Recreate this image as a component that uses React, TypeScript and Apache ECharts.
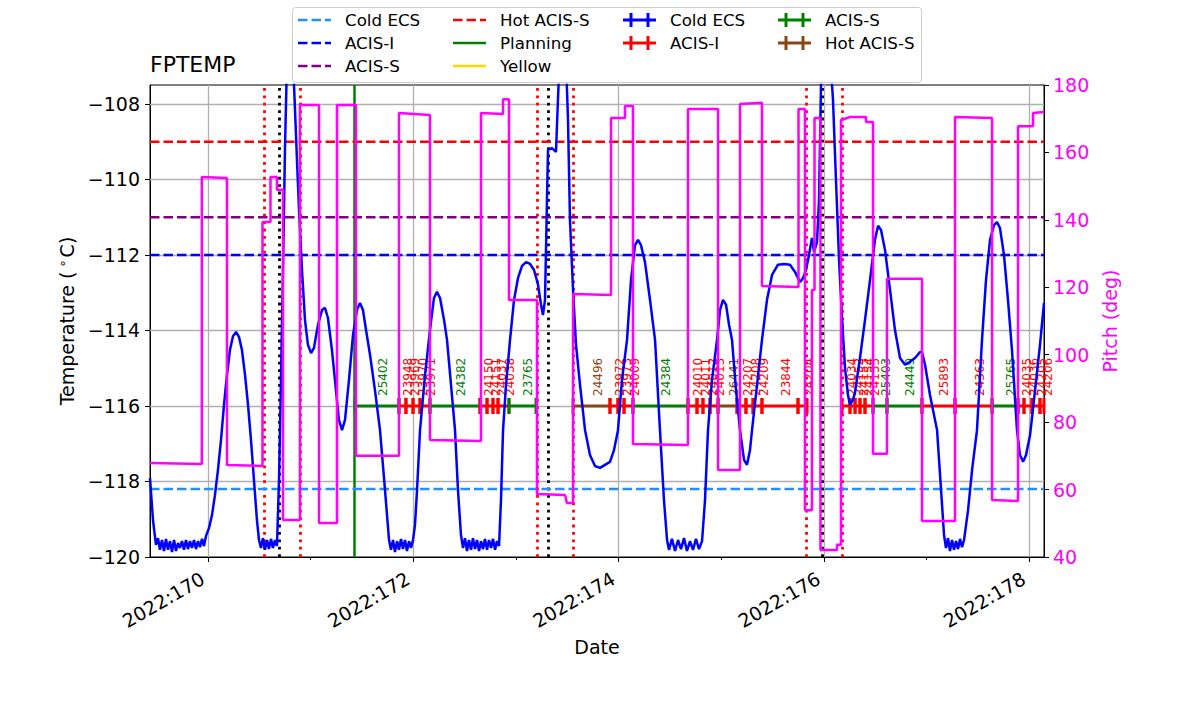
import React, { useEffect, useRef } from "react";
import * as echarts from "echarts";

const FONT = "DejaVu Sans";
const TICK_FS = 19;
const AXIS_NAME_FS = 19;
const LEGEND_FS = 16.7;
const TITLE_FS = 22;

const X_MIN = 169.435;
const X_MAX = 178.146;
const TEMP_MIN = -120;
const TEMP_MAX = -107.5;
const PITCH_MIN = 40;
const PITCH_MAX = 180;

const X_MAJOR_TICKS = [170, 172, 174, 176, 178];
const X_MINOR_TICKS = [171, 173, 175, 177];
const TEMP_TICKS = [-120, -118, -116, -114, -112, -110, -108];
const TEMP_GRID = [-118, -116, -114, -112, -110, -108];
const PITCH_INTERVAL = 20;

// FPTEMP temperature (day of year 2022, deg C)
const TEMP_TIME = [
  169.435, 169.464, 169.493, 169.513, 169.532, 169.552, 169.571, 169.591, 169.61, 169.63,
  169.649, 169.669, 169.688, 169.708, 169.727, 169.747, 169.766, 169.786, 169.805, 169.825,
  169.844, 169.864, 169.883, 169.903, 169.922, 169.942, 169.961, 169.981, 170.01, 170.039,
  170.068, 170.097, 170.127, 170.156, 170.185, 170.214, 170.244, 170.273, 170.302, 170.331,
  170.361, 170.39, 170.419, 170.448, 170.477, 170.497, 170.516, 170.536, 170.555, 170.575,
  170.594, 170.614, 170.633, 170.653, 170.672, 170.692, 170.711, 170.731, 170.75, 170.77,
  170.799, 170.828, 170.848, 170.867, 170.887, 170.916, 170.945, 170.974, 171.004, 171.033,
  171.072, 171.111, 171.14, 171.169, 171.208, 171.247, 171.276, 171.306, 171.335, 171.374,
  171.413, 171.452, 171.481, 171.51, 171.54, 171.579, 171.627, 171.676, 171.725, 171.764,
  171.783, 171.803, 171.822, 171.842, 171.861, 171.881, 171.9, 171.92, 171.939, 171.959,
  171.978, 171.998, 172.017, 172.037, 172.066, 172.115, 172.163, 172.202, 172.231, 172.261,
  172.3, 172.329, 172.368, 172.407, 172.436, 172.465, 172.485, 172.504, 172.524, 172.543,
  172.563, 172.582, 172.602, 172.621, 172.641, 172.66, 172.68, 172.699, 172.719, 172.738,
  172.758, 172.777, 172.797, 172.816, 172.836, 172.855, 172.875, 172.904, 172.943, 172.982,
  173.021, 173.06, 173.099, 173.138, 173.177, 173.216, 173.245, 173.264, 173.284, 173.303,
  173.313, 173.352, 173.391, 173.41, 173.43, 173.459, 173.488, 173.508, 173.527, 173.557,
  173.586, 173.625, 173.674, 173.722, 173.771, 173.82, 173.868, 173.917, 173.956, 173.995,
  174.034, 174.083, 174.122, 174.161, 174.19, 174.219, 174.258, 174.307, 174.356, 174.404,
  174.443, 174.473, 174.492, 174.521, 174.551, 174.58, 174.609, 174.638, 174.667, 174.697,
  174.726, 174.755, 174.784, 174.814, 174.843, 174.872, 174.911, 174.96, 174.989, 175.018,
  175.048, 175.077, 175.106, 175.145, 175.184, 175.223, 175.252, 175.281, 175.301, 175.35,
  175.398, 175.447, 175.496, 175.554, 175.613, 175.671, 175.72, 175.769, 175.798, 175.827,
  175.856, 175.885, 175.905, 175.934, 175.954, 175.973, 175.993, 176.032, 176.071, 176.09,
  176.119, 176.149, 176.178, 176.207, 176.236, 176.256, 176.285, 176.305, 176.353, 176.402,
  176.451, 176.499, 176.529, 176.558, 176.597, 176.646, 176.694, 176.743, 176.792, 176.84,
  176.889, 176.938, 176.957, 176.987, 177.035, 177.104, 177.143, 177.172, 177.191, 177.211,
  177.23, 177.25, 177.269, 177.289, 177.308, 177.328, 177.347, 177.367, 177.406, 177.445,
  177.493, 177.542, 177.581, 177.62, 177.659, 177.688, 177.717, 177.756, 177.795, 177.834,
  177.883, 177.912, 177.942, 177.971, 178.01, 178.059, 178.107, 178.146,
];
const TEMP_VALUE = [
  -117.91, -119.02, -119.68, -119.5, -119.81, -119.55, -119.84, -119.52, -119.81, -119.58,
  -119.87, -119.55, -119.84, -119.63, -119.76, -119.58, -119.81, -119.55, -119.79, -119.58,
  -119.76, -119.55, -119.79, -119.58, -119.74, -119.52, -119.71, -119.44, -119.23, -118.89,
  -118.36, -117.7, -116.9, -115.97, -115.18, -114.52, -114.15, -114.04, -114.17, -114.52,
  -115.18, -115.97, -116.9, -117.96, -119.02, -119.55, -119.76, -119.5, -119.81, -119.55,
  -119.79, -119.52, -119.76, -119.55, -119.71, -117.96, -115.31, -112.4, -109.22, -106.83,
  -105.78, -106.83, -108.16, -109.48, -110.81, -112.4, -113.72, -114.38, -114.6, -114.46,
  -113.85, -113.46, -113.4, -113.67, -114.52, -115.58, -116.37, -116.64, -116.37, -115.31,
  -114.12, -113.46, -113.27, -113.46, -113.99, -114.65, -115.58, -116.64, -118.23, -119.55,
  -119.81, -119.55, -119.87, -119.58, -119.81, -119.52, -119.79, -119.55, -119.84, -119.58,
  -119.76, -119.55, -119.15, -118.23, -116.64, -115.18, -113.99, -113.14, -112.98, -113.14,
  -113.72, -114.25, -115.44, -116.64, -118.23, -119.42, -119.76, -119.5, -119.84, -119.55,
  -119.81, -119.5, -119.79, -119.55, -119.84, -119.58, -119.79, -119.52, -119.81, -119.55,
  -119.76, -119.52, -119.81, -119.58, -119.71, -118.49, -116.64, -115.44, -114.25, -113.19,
  -112.61, -112.29, -112.19, -112.24, -112.4, -112.79, -113.32, -113.59, -113.19, -110.54,
  -109.22, -109.17, -109.27, -107.89, -106.57, -106.04, -106.83, -108.42, -111.07, -112.93,
  -114.38, -115.44, -116.64, -117.3, -117.59, -117.64, -117.56, -117.48, -117.17, -116.64,
  -115.31, -114.25, -112.66, -111.74, -111.6, -111.74, -112.19, -113.19, -114.25, -116.64,
  -118.49, -119.55, -119.81, -119.52, -119.84, -119.55, -119.79, -119.5, -119.84, -119.58,
  -119.81, -119.52, -119.79, -119.58, -118.49, -116.64, -115.31, -114.25, -113.46, -113.19,
  -113.32, -113.85, -114.25, -115.58, -116.64, -117.43, -117.56, -117.17, -116.64, -115.44,
  -114.25, -113.19, -112.53, -112.26, -112.24, -112.26, -112.45, -112.72, -112.61, -112.4,
  -112.0, -111.55, -111.92, -111.66, -110.54, -107.5, -106.3, -106.04, -107.1, -107.89,
  -110.01, -112.13, -113.67, -114.99, -115.71, -115.97, -115.84, -115.63, -114.73, -113.72,
  -112.66, -111.6, -111.23, -111.34, -111.87, -112.93, -113.99, -114.73, -114.91, -114.83,
  -114.73, -114.57, -114.57, -114.91, -115.71, -116.64, -118.23, -119.42, -119.76, -119.5,
  -119.84, -119.55, -119.81, -119.58, -119.79, -119.52, -119.74, -119.55, -118.76, -117.7,
  -116.64, -114.25, -112.66, -111.6, -111.21, -111.13, -111.29, -112.0, -113.19, -114.52,
  -116.64, -117.3, -117.48, -117.3, -116.77, -115.58, -114.38, -113.27,
];

// Pitch (deg)
const PITCH_TIME = [
  169.435, 169.94, 169.94, 170.185, 170.185, 170.531, 170.531, 170.609, 170.609, 170.672,
  170.672, 170.731, 170.731, 170.896, 170.896, 171.082, 171.082, 171.257, 171.257, 171.442,
  171.442, 171.861, 171.861, 172.163, 172.163, 172.66, 172.66, 172.875, 172.875, 172.933,
  172.933, 173.206, 173.206, 173.479, 173.498, 173.557, 173.557, 173.927, 173.927, 174.063,
  174.063, 174.141, 174.141, 174.677, 174.677, 174.97, 174.97, 175.184, 175.184, 175.398,
  175.398, 175.754, 175.754, 175.817, 175.817, 175.885, 175.885, 175.91, 175.91, 175.968,
  175.968, 176.129, 176.129, 176.168, 176.168, 176.256, 176.412, 176.412, 176.48, 176.48,
  176.616, 176.616, 176.957, 176.957, 177.279, 177.279, 177.64, 177.64, 177.893, 177.893,
  178.039, 178.039, 178.146,
];
const PITCH_VALUE = [
  67.9, 67.6, 152.7, 152.4, 67.3, 67.0, 139.4, 139.4, 152.7, 152.7,
  148.9, 148.9, 51.0, 51.0, 174.1, 174.1, 50.1, 50.1, 174.1, 174.1,
  70.0, 70.0, 171.7, 171.1, 74.7, 74.4, 171.7, 171.4, 175.8, 175.8,
  116.2, 116.2, 58.7, 58.4, 56.0, 56.0, 118.0, 117.7, 170.2, 170.2,
  173.8, 173.8, 73.5, 73.2, 172.9, 172.9, 65.8, 65.8, 174.4, 174.7,
  120.4, 120.1, 172.9, 172.9, 53.9, 53.9, 119.2, 119.2, 170.2, 170.2,
  42.1, 42.1, 43.6, 43.6, 169.6, 170.5, 170.5, 169.0, 169.0, 70.6,
  70.6, 122.5, 122.5, 50.7, 50.7, 170.5, 170.2, 56.9, 56.6, 167.8,
  167.8, 171.7, 172.0,
];

// limit lines
const LIMIT_NAMES = ["Cold ECS", "ACIS-I", "ACIS-S", "Hot ACIS-S"];
const LIMIT_VALUES = [-118.2, -112, -111, -109];
const LIMIT_COLORS = ["#1e90ff", "#0000ff", "#800080", "#ff0000"];

// vertical events
const RADZONE_TIMES = [170.546, 170.896, 173.206, 173.557, 175.827, 176.178];
const PERIGEE_TIMES = [170.692, 173.323, 175.993];
const PLANNING_TIME = 171.432;

// observations
const MODE_NAMES = ["Cold ECS", "ACIS-I", "ACIS-S", "Hot ACIS-S"];
const MODE_COLORS = ["#0000ff", "#ff0000", "#008000", "#8b4513"];
const OBS_LEVEL = -116;
const OBS_START = [
  171.432, 171.861, 171.929, 171.998, 172.066, 172.163, 172.65, 172.719, 172.777, 172.826,
  172.933, 173.557, 173.917, 173.995, 174.054, 174.141, 174.677, 174.765, 174.823, 174.892,
  174.97, 175.155, 175.242, 175.311, 175.398, 175.749, 176.178, 176.256, 176.305, 176.353,
  176.402, 176.48, 176.616, 176.957, 177.279, 177.64, 177.893, 177.951, 178.029, 178.107,
];
const OBS_END = [
  171.861, 171.929, 171.998, 172.066, 172.163, 172.65, 172.719, 172.777, 172.826, 172.933,
  173.196, 173.917, 173.995, 174.054, 174.141, 174.677, 174.765, 174.823, 174.892, 174.97,
  175.155, 175.242, 175.311, 175.398, 175.749, 175.837, 176.256, 176.305, 176.353, 176.402,
  176.48, 176.616, 176.957, 177.279, 177.64, 177.893, 177.951, 178.029, 178.107, 178.146,
];
const OBS_MODE = [
  2, 1, 1, 1, 1, 2, 1, 1, 1, 1,
  2, 3, 1, 1, 1, 2, 1, 1, 1, 1,
  3, 1, 1, 1, 1, 1, 1, 1, 1, 1,
  1, 2, 2, 1, 1, 2, 1, 1, 1, 1,
];
const OBS_ID = [
  25402, 23948, 23969, 23970, 23971, 24382, 24150, 24151, 24037, 24038,
  23765, 24496, 23972, 23973, 24009, 24384, 24010, 24011, 24012, 24013,
  26441, 24207, 24208, 24209, 23844, 24204, 24034, 24152, 24153, 24154,
  24155, 25403, 24449, 25893, 24363, 25765, 24035, 24036, 24205, 24206,
];

const fmtTemp = (v: number) => (v < 0 ? "\u2212" + Math.abs(v) : String(v));

function buildLegend() {
  const colX = [298, 453, 623, 778];
  const rowY = [20, 43, 66];
  const entries = [
    { c: 0, r: 0, label: LIMIT_NAMES[0], color: LIMIT_COLORS[0], kind: "dash" },
    { c: 0, r: 1, label: LIMIT_NAMES[1], color: LIMIT_COLORS[1], kind: "dash" },
    { c: 0, r: 2, label: LIMIT_NAMES[2], color: LIMIT_COLORS[2], kind: "dash" },
    { c: 1, r: 0, label: LIMIT_NAMES[3], color: LIMIT_COLORS[3], kind: "dash" },
    { c: 1, r: 1, label: "Planning", color: "#008000", kind: "solid" },
    { c: 1, r: 2, label: "Yellow", color: "#ffd700", kind: "solid" },
    { c: 2, r: 0, label: MODE_NAMES[0], color: MODE_COLORS[0], kind: "obs" },
    { c: 2, r: 1, label: MODE_NAMES[1], color: MODE_COLORS[1], kind: "obs" },
    { c: 3, r: 0, label: MODE_NAMES[2], color: MODE_COLORS[2], kind: "obs" },
    { c: 3, r: 1, label: MODE_NAMES[3], color: MODE_COLORS[3], kind: "obs" },
  ];
  const els: any[] = [
    {
      type: "rect",
      shape: { x: 292.5, y: 7.5, width: 629, height: 75, r: 3 },
      style: { fill: "rgba(255,255,255,0.8)", stroke: "#cccccc", lineWidth: 1 },
      z: 100,
    },
  ];
  entries.forEach((e) => {
    const x = colX[e.c];
    const y = rowY[e.r];
    if (e.kind === "obs") {
      els.push({
        type: "line",
        shape: { x1: x, y1: y, x2: x + 33, y2: y },
        style: { stroke: e.color, lineWidth: 3 },
        z: 101,
      });
      [8, 25].forEach((dx) =>
        els.push({
          type: "rect",
          shape: { x: x + dx - 1.5, y: y - 7, width: 3, height: 14 },
          style: { fill: e.color },
          z: 101,
        })
      );
    } else {
      els.push({
        type: "line",
        shape: { x1: x, y1: y, x2: x + 33, y2: y },
        style: {
          stroke: e.color,
          lineWidth: 2.5,
          lineDash: e.kind === "dash" ? [9.5, 4] : null,
        },
        z: 101,
      });
    }
    els.push({
      type: "text",
      x: x + 47,
      y: y,
      style: {
        text: e.label,
        fill: "#000",
        fontSize: LEGEND_FS,
        fontFamily: FONT,
        verticalAlign: "middle",
        align: "left",
      },
      z: 101,
    });
  });
  return els;
}

function buildOption() {
  const tempData = TEMP_TIME.map((t, i) => [t, TEMP_VALUE[i]]);
  const pitchData = PITCH_TIME.map((t, i) => [t, PITCH_VALUE[i]]);
  const obsData = OBS_START.map((s, i) => [s, OBS_END[i], OBS_MODE[i], OBS_ID[i]]);

  const limitSeries = LIMIT_VALUES.map((v, i) => ({
    type: "line",
    name: "limit " + LIMIT_NAMES[i],
    xAxisIndex: 0,
    yAxisIndex: 0,
    data: [
      [X_MIN, v],
      [X_MAX, v],
    ],
    showSymbol: false,
    symbol: "none",
    silent: true,
    lineStyle: { color: LIMIT_COLORS[i], width: 2.5, type: [9.5, 4] },
    z: 2,
  }));

  const vline = (name: string, times: number[], color: string, type: any, width: number) => ({
    type: "line",
    name,
    xAxisIndex: 0,
    yAxisIndex: 0,
    data: [],
    z: 2,
    markLine: {
      silent: true,
      symbol: ["none", "none"],
      label: { show: false },
      lineStyle: { color, type, width },
      data: times.map((t) => ({ xAxis: t })),
      z: 2,
    },
  });

  return {
    animation: false,
    backgroundColor: "#ffffff",
    textStyle: { fontFamily: FONT },
    title: {
      text: "FPTEMP",
      left: 150,
      top: 53,
      padding: 0,
      textStyle: { fontFamily: FONT, fontSize: TITLE_FS, fontWeight: "normal", color: "#000" },
    },
    grid: {
      left: 150,
      top: 85,
      width: 894,
      height: 472,
      show: true,
      borderColor: "#000",
      borderWidth: 1,
      backgroundColor: "transparent",
    },
    xAxis: [
      {
        type: "value",
        min: X_MIN,
        max: X_MAX,
        position: "bottom",
        name: "Date",
        nameLocation: "middle",
        nameGap: 80,
        nameTextStyle: { fontFamily: FONT, fontSize: AXIS_NAME_FS, color: "#000" },
        axisLine: { show: true, onZero: false, lineStyle: { color: "#000", width: 1 } },
        axisTick: { show: true, customValues: X_MAJOR_TICKS, length: 5, lineStyle: { color: "#000", width: 1 } },
        axisLabel: {
          show: true,
          customValues: X_MAJOR_TICKS,
          rotate: 30,
          margin: 17,
          padding: [0, 6, 0, 0],
          formatter: (v: number) => "2022:" + Math.round(v),
          fontFamily: FONT,
          fontSize: TICK_FS,
          color: "#000",
        },
        splitLine: { show: false },
      },
      {
        type: "value",
        min: X_MIN,
        max: X_MAX,
        position: "bottom",
        axisLine: { show: false, onZero: false },
        axisTick: { show: true, customValues: X_MINOR_TICKS, length: 3, lineStyle: { color: "#000", width: 1 } },
        axisLabel: { show: false },
        splitLine: { show: false },
      },
    ],
    yAxis: [
      {
        type: "value",
        min: TEMP_MIN,
        max: TEMP_MAX,
        position: "left",
        name: "Temperature ({sup|\u2218}C)",
        nameLocation: "middle",
        nameRotate: 90,
        nameGap: 72,
        nameTextStyle: {
          fontFamily: FONT,
          fontSize: AXIS_NAME_FS,
          color: "#000",
          rich: {
            sup: { fontFamily: FONT, fontSize: 13, color: "#000", verticalAlign: "top", padding: [0, 2, 9, 4] },
          },
        },
        axisLine: { show: true, onZero: false, lineStyle: { color: "#000", width: 1 } },
        axisTick: { show: true, customValues: TEMP_TICKS, length: 5, lineStyle: { color: "#000", width: 1 } },
        axisLabel: {
          customValues: TEMP_TICKS,
          formatter: fmtTemp,
          margin: 10,
          fontFamily: FONT,
          fontSize: TICK_FS,
          color: "#000",
        },
        splitLine: { show: false },
      },
      {
        type: "value",
        min: PITCH_MIN,
        max: PITCH_MAX,
        interval: PITCH_INTERVAL,
        position: "right",
        name: "Pitch (deg)",
        nameLocation: "middle",
        nameRotate: 90,
        nameGap: 46,
        nameTextStyle: { fontFamily: FONT, fontSize: AXIS_NAME_FS, color: "#ff00ff" },
        axisLine: { show: true, onZero: false, lineStyle: { color: "#000", width: 1 } },
        axisTick: { show: true, length: 5, lineStyle: { color: "#000", width: 1 } },
        axisLabel: { margin: 9, fontFamily: FONT, fontSize: TICK_FS, color: "#ff00ff" },
        splitLine: { show: false },
      },
    ],
    graphic: buildLegend(),
    series: [
      {
        type: "line",
        name: "grid",
        xAxisIndex: 0,
        yAxisIndex: 0,
        data: [],
        z: 1,
        markLine: {
          silent: true,
          symbol: ["none", "none"],
          label: { show: false },
          lineStyle: { color: "#b0b0b0", width: 1.3, type: "solid" },
          data: [
            ...X_MAJOR_TICKS.map((v) => ({ xAxis: v })),
            ...TEMP_GRID.map((v) => ({ yAxis: v })),
          ],
          z: 1,
        },
      },
      ...limitSeries,
      vline("radzone", RADZONE_TIMES, "#ff0000", [2.8, 4.6], 2.8),
      vline("perigee", PERIGEE_TIMES, "#000000", [2.8, 4.6], 2.8),
      vline("Planning", [PLANNING_TIME], "#008000", "solid", 2.5),
      {
        type: "custom",
        name: "obsids",
        xAxisIndex: 0,
        yAxisIndex: 0,
        data: obsData,
        encode: { x: [0, 1] },
        z: 3,
        silent: true,
        renderItem: (params: any, api: any) => {
          const p0 = api.coord([api.value(0), OBS_LEVEL]);
          const p1 = api.coord([api.value(1), OBS_LEVEL]);
          const color = MODE_COLORS[api.value(2)];
          const mid = (p0[0] + p1[0]) / 2;
          return {
            type: "group",
            children: [
              {
                type: "line",
                shape: { x1: p0[0], y1: p0[1], x2: p1[0], y2: p1[1] },
                style: { stroke: color, lineWidth: 3 },
              },
              {
                type: "rect",
                shape: { x: p0[0] - 1.5, y: p0[1] - 8, width: 3, height: 16 },
                style: { fill: color },
              },
              {
                type: "rect",
                shape: { x: p1[0] - 1.5, y: p1[1] - 8, width: 3, height: 16 },
                style: { fill: color },
              },
              {
                type: "text",
                x: mid,
                y: p0[1] - 10,
                rotation: Math.PI / 2,
                style: {
                  text: String(api.value(3)),
                  fill: color,
                  fontSize: 12,
                  fontFamily: FONT,
                  align: "left",
                  verticalAlign: "top",
                },
              },
            ],
          };
        },
      },
      {
        type: "line",
        name: "FPTEMP",
        xAxisIndex: 0,
        yAxisIndex: 0,
        data: tempData,
        showSymbol: false,
        symbol: "none",
        clip: true,
        lineStyle: { color: "#0000ff", width: 2.5 },
        z: 4,
      },
      {
        type: "line",
        name: "Pitch",
        xAxisIndex: 0,
        yAxisIndex: 1,
        data: pitchData,
        showSymbol: false,
        symbol: "none",
        clip: true,
        lineStyle: { color: "#ff00ff", width: 2.5 },
        z: 5,
      },
    ],
  };
}

export default function App() {
  const ref = useRef<HTMLDivElement>(null);
  useEffect(() => {
    document.body.style.margin = "0";
    const chart = echarts.init(ref.current as HTMLDivElement, undefined, { renderer: "svg" });
    chart.setOption(buildOption() as any);
    return () => {
      chart.dispose();
    };
  }, []);
  return <div ref={ref} style={{ width: 1200, height: 714 }} />;
}
